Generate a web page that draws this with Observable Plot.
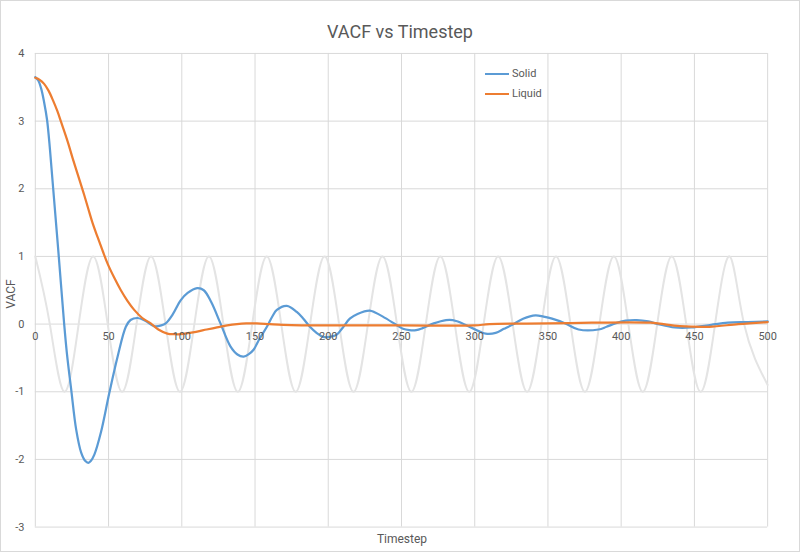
<!DOCTYPE html>
<html><head><meta charset="utf-8">
<script src="https://cdn.jsdelivr.net/npm/d3@7"></script>
<script src="https://cdn.jsdelivr.net/npm/@observablehq/plot@0.6"></script>
<style>
body{margin:0;background:#fff;}
#chart{position:relative;width:800px;height:552px;box-sizing:border-box;border:1px solid #D9D9D9;font-family:Roboto,"Liberation Sans",sans-serif;color:#595959;overflow:hidden;background:#fff;}
#title{position:absolute;top:20px;left:-1px;width:800px;text-align:center;font-size:18px;line-height:22px;}
#plot{position:absolute;top:43px;left:-1px;}
#xlabel{position:absolute;top:531px;left:-1px;width:804px;text-align:center;font-size:12px;line-height:14px;}
#ylabel{position:absolute;left:-12px;top:286px;width:44px;text-align:center;font-size:12px;line-height:14px;transform:rotate(-90deg);}
#legend{position:absolute;left:484px;top:63px;font-size:11px;line-height:20px;}
#legend .row{display:flex;align-items:center;}
#legend .sw{display:inline-block;width:24px;height:2px;margin-right:3px;}
</style>
</head><body>
<div id="chart">
  <div id="title">VACF vs Timestep</div>
  <div id="legend"></div>
  <div id="ylabel">VACF</div>
  <div id="xlabel">Timestep</div>
</div>
<script>
const xTicks = [0, 50, 100, 150, 200, 250, 300, 350, 400, 450, 500];
const yTicks = [-3, -2, -1, 0, 1, 2, 3, 4];
const seriesNames = ["Solid", "Liquid"];
const seriesColors = ["#5B9BD5", "#ED7D31"];

const solidX = [0, 2, 4, 6, 8, 10, 12.2, 16, 19.7, 21.5, 24.5, 27.9, 31.3, 34, 36.2, 38, 40.3, 44.8, 50.5, 56.2, 61.8, 65, 69.8, 75, 81, 86, 89, 94, 99.2, 104, 110.5, 115, 120, 126.4, 133.2, 138, 142.2, 146, 149, 153, 158.1, 162, 164.9, 171.7, 178.5, 183, 187.5, 192, 196.5, 201, 205.6, 210, 214.7, 220, 228.3, 232, 237.3, 246.4, 251, 255.4, 260, 264.5, 272, 280.4, 285, 289.4, 298.4, 307.5, 314.3, 320, 325.6, 333, 341.5, 347, 352.8, 361.9, 370.9, 384.5, 390, 395.9, 403, 410.6, 418.5, 425.3, 436.6, 448, 461.5, 472.8, 486.4, 500];
const solidY = [3.65, 3.6, 3.48, 3.28, 3.02, 2.58, 2.0, 1.0, 0.0, -0.42, -0.97, -1.56, -1.9, -2.02, -2.05, -2.02, -1.93, -1.6, -1.02, -0.48, -0.04, 0.06, 0.09, 0.05, -0.03, -0.02, 0.01, 0.15, 0.35, 0.46, 0.53, 0.5, 0.33, 0.01, -0.33, -0.45, -0.48, -0.44, -0.38, -0.22, -0.04, 0.12, 0.21, 0.27, 0.18, 0.08, -0.04, -0.13, -0.19, -0.19, -0.16, -0.05, 0.08, 0.15, 0.2, 0.17, 0.11, -0.01, -0.07, -0.09, -0.09, -0.06, 0.01, 0.06, 0.06, 0.03, -0.06, -0.14, -0.13, -0.07, -0.01, 0.08, 0.13, 0.11, 0.08, 0.01, -0.08, -0.08, -0.04, 0.01, 0.05, 0.06, 0.04, 0, -0.05, -0.05, -0.01, 0.02, 0.03, 0.04];

const liquidX = [0, 3, 6, 9, 12, 15, 17.7, 22.2, 25.5, 29, 32.5, 35.8, 39, 42.6, 46, 49.4, 54, 58.4, 63, 67.5, 73, 78.8, 84, 90.1, 95, 99.2, 105, 110.5, 117, 124.1, 131, 137.7, 144, 151.3, 160, 169.4, 200, 250, 300, 310, 350, 380, 420, 440, 460, 480, 500];
const liquidY = [3.64, 3.61, 3.55, 3.45, 3.31, 3.15, 2.98, 2.69, 2.45, 2.21, 1.97, 1.73, 1.5, 1.28, 1.08, 0.89, 0.68, 0.5, 0.34, 0.21, 0.09, 0.01, -0.08, -0.14, -0.15, -0.15, -0.13, -0.11, -0.08, -0.05, -0.02, 0, 0.01, 0.01, 0, -0.01, -0.02, -0.02, -0.02, 0, 0.01, 0.02, 0.02, -0.03, -0.04, 0, 0.03];

const refX = [0, 9.9, 19.75, 29.6, 39.5, 49.4, 59.25, 69.1, 79, 88.9, 98.75, 108.6, 118.5, 128.4, 138.25, 148.1, 158, 167.9, 177.75, 187.6, 197.5, 207.4, 217.25, 227.1, 237, 246.9, 256.75, 266.6, 276.5, 286.4, 296.25, 306.1, 316, 325.9, 335.75, 345.6, 355.5, 365.4, 375.25, 385.1, 395, 404.9, 414.75, 424.6, 434.5, 444.4, 454.25, 464.1, 474, 483.9, 500];
const refY = [1, 0, -1, 0, 1, 0, -1, 0, 1, 0, -1, 0, 1, 0, -1, 0, 1, 0, -1, 0, 1, 0, -1, 0, 1, 0, -1, 0, 1, 0, -1, 0, 1, 0, -1, 0, 1, 0, -1, 0, 1, 0, -1, 0, 1, 0, -1, 0, 1, 0, -0.9];

const font = 'Roboto, "Liberation Sans", sans-serif';
const plot = Plot.plot({
  width: 802,
  height: 490,
  marginLeft: 35,
  marginRight: 31,
  marginTop: 9,
  marginBottom: 5,
  x: {domain: [0, 500], axis: null},
  y: {domain: [-3, 4], axis: null},
  style: {fontFamily: font, fontSize: "11px", color: "#595959", background: "transparent", overflow: "visible"},
  marks: [
    Plot.ruleX(xTicks, {x: d => d, stroke: "#D9D9D9", strokeWidth: 1}),
    Plot.ruleY(yTicks, {y: d => d, stroke: "#D9D9D9", strokeWidth: 1}),
    Plot.line(refY, {x: refX, y: refY, curve: "natural", stroke: "#E4E4E4", strokeWidth: 2}),
    Plot.line(solidY, {x: solidX, y: solidY, curve: "catmull-rom", stroke: seriesColors[0], strokeWidth: 2.25}),
    Plot.line(liquidY, {x: liquidX, y: liquidY, curve: "catmull-rom", stroke: seriesColors[1], strokeWidth: 2.25}),
    Plot.axisY(yTicks, {tickSize: 0, tickPadding: 11, tickFormat: d => String(d), label: null, fill: "#595959"}),
    Plot.text(xTicks, {x: d => d, y: 0, dy: 12, text: d => String(d), fill: "#595959"})
  ]
});
plot.id = "plot";
document.getElementById("chart").appendChild(plot);

const legend = document.getElementById("legend");
seriesNames.forEach((n, i) => {
  const row = document.createElement("div");
  row.className = "row";
  const sw = document.createElement("span");
  sw.className = "sw";
  sw.style.background = seriesColors[i];
  row.appendChild(sw);
  row.appendChild(document.createTextNode(n));
  legend.appendChild(row);
});
</script>
</body></html>
